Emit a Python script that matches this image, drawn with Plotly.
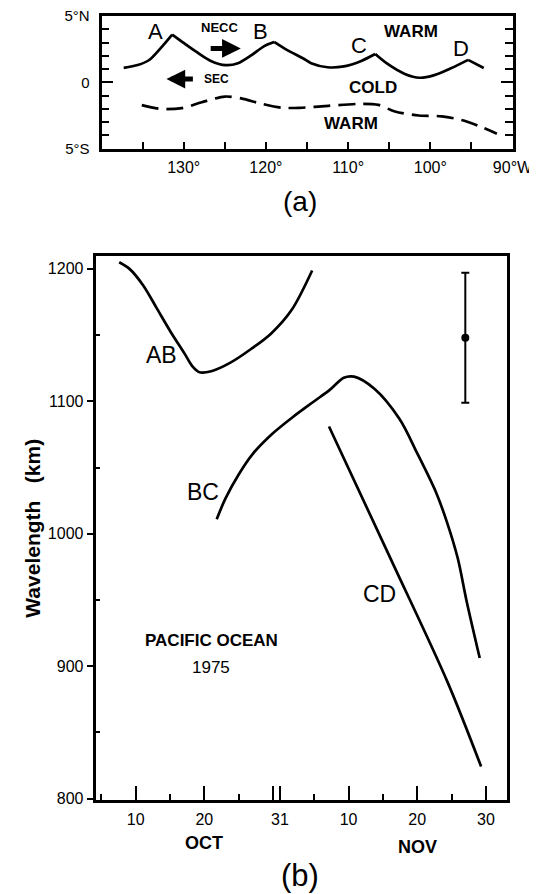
import plotly.graph_objects as go

# ---------------- Panel (a): front positions ----------------
solid_lon = [137.3, 135.6, 134.2, 132.8, 131.4, 130.0, 128.3, 126.7, 124.9, 123.4, 121.8, 120.2,
             119.0, 117.4, 115.5, 114.5, 112.5, 110.5, 108.4, 106.7, 105.2, 103.1, 101.3, 99.5,
             97.5, 95.4, 93.5]
solid_lat = [1.08, 1.30, 1.68, 2.58, 3.60, 2.97, 2.23, 1.61, 1.29, 1.43, 2.02, 2.73,
             3.04, 2.42, 1.81, 1.44, 1.13, 1.20, 1.61, 2.13, 1.38, 0.63, 0.34, 0.54,
             1.05, 1.69, 1.08]
peak_idx = [4, 12, 19, 25]          # A, B, C, D crests
peak_names = ["A", "B", "C", "D"]

dash_lon = [135.1, 132.7, 130.2, 127.8, 125.0, 123.0, 120.5, 118.1, 115.9, 112.4, 108.4,
            106.3, 104.3, 101.4, 98.6, 96.2, 93.7, 91.9]
dash_lat = [-1.73, -2.02, -1.95, -1.51, -1.08, -1.22, -1.63, -1.92, -1.93, -1.78, -1.63,
            -1.71, -2.21, -2.51, -2.57, -2.85, -3.40, -3.88]

lon_ticks = [135, 130, 125, 120, 115, 110, 105, 100, 95, 90]
lon_labels = ["", "130°", "", "120°", "", "110°", "", "100°", "", "90°W"]
lat_ticks = [-5, 0, 5]
lat_labels = ["5°S", "0", "5°N"]

# ---------------- Panel (b): wavelength vs date (day 1 = 1 Oct) ----------------
ab_day = [7.6, 9.1, 11.1, 13.1, 15.1, 17.1, 18.3, 19.3, 21.0, 23.8, 26.8, 29.7, 32.7, 35.7]
ab_km = [1205, 1200, 1187.5, 1170, 1152.4, 1136.2, 1126.2, 1121.9, 1122.7, 1129.2, 1139.5,
         1151.1, 1168.9, 1198.8]

bc_day = [21.8, 23.1, 25.0, 27.0, 29.9, 32.9, 35.9, 38.3, 40.3, 41.8, 44.8, 48.4, 50.9, 53.7,
          55.3, 56.9, 58.2, 60.1]
bc_km = [1011, 1026.9, 1044.8, 1060, 1075.5, 1088.2, 1099.7, 1108.8, 1117.8, 1118.6, 1109.3,
         1086.8, 1061.9, 1031.8, 1009.2, 981.5, 948.9, 906.2]

cd_day = [38.15, 47.15, 55.4, 60.3]
cd_km = [1081, 980.9, 888.2, 824.3]

err_day = [58.0]
err_km = [1148]
err_half = [49]

day_ticks = [10, 20, 30, 31, 41, 51, 61]
day_labels = ["10", "20", "", "31", "10", "20", "30"]
day_minor = [5, 15, 25, 36, 46, 56]
km_ticks = [800, 900, 1000, 1100, 1200]
km_minor = [850, 950, 1050, 1150]

FONT = "Liberation Sans, Arial, sans-serif"
LW = 2.7
W, H, OFF = 537, 894, 8   # the page body adds an 8px offset to the plot div


def px_x(x):
    return (x - OFF) / W


def px_y(y):
    return 1 - (y - OFF) / H


fig = go.Figure()

# solid front, drawn arc by arc so that the crests stay sharp
bounds = [0] + peak_idx + [len(solid_lon) - 1]
for i in range(len(bounds) - 1):
    a, b = bounds[i], bounds[i + 1]
    fig.add_trace(go.Scatter(x=solid_lon[a:b + 1], y=solid_lat[a:b + 1], mode="lines",
                             line=dict(color="black", width=LW, shape="spline", smoothing=0.8),
                             xaxis="x", yaxis="y", hoverinfo="skip"))
fig.add_trace(go.Scatter(x=dash_lon, y=dash_lat, mode="lines",
                         line=dict(color="black", width=LW, shape="spline", smoothing=0.8,
                                   dash="17px,8px"),
                         xaxis="x", yaxis="y", hoverinfo="skip"))

for xs, ys in [(ab_day, ab_km), (bc_day, bc_km), (cd_day, cd_km)]:
    fig.add_trace(go.Scatter(x=xs, y=ys, mode="lines",
                             line=dict(color="black", width=LW, shape="spline", smoothing=0.9),
                             xaxis="x2", yaxis="y2", hoverinfo="skip"))
fig.add_trace(go.Scatter(x=err_day, y=err_km, mode="markers",
                         marker=dict(color="black", size=8),
                         error_y=dict(type="data", array=err_half, color="black",
                                      thickness=2, width=4),
                         xaxis="x2", yaxis="y2", hoverinfo="skip"))

ann = []
C = dict(xanchor="center", yanchor="middle", showarrow=False)
# panel (a) labels
a_lbl_pos = {"A": (133.4, 3.83), "B": (120.6, 3.80), "C": (108.7, 2.74), "D": (96.3, 2.57)}
for n in peak_names:
    x, y = a_lbl_pos[n]
    ann.append(dict(x=x, y=y, xref="x", yref="y", text=n, **C,
                    font=dict(size=22, family=FONT)))
for txt, x, y, s in [("NECC", 125.7, 4.15, 13), ("SEC", 126.0, 0.22, 12),
                     ("WARM", 102.4, 3.80, 17), ("COLD", 107.0, -0.41, 17),
                     ("WARM", 109.7, -3.08, 17)]:
    ann.append(dict(x=x, y=y, xref="x", yref="y", text="<b>%s</b>" % txt, **C,
                    font=dict(size=s, family=FONT)))
# current arrows
ann.append(dict(x=123.05, y=2.55, ax=126.9, ay=2.55, xref="x", yref="y", axref="x", ayref="y",
                text="", showarrow=True, arrowhead=2, arrowwidth=5, arrowsize=0.75,
                arrowcolor="black"))
ann.append(dict(x=132.1, y=0.24, ax=128.7, ay=0.24, xref="x", yref="y", axref="x", ayref="y",
                text="", showarrow=True, arrowhead=2, arrowwidth=5, arrowsize=0.75,
                arrowcolor="black"))

# panel (b) labels
for txt, x, y in [("AB", 13.7, 1134.8), ("BC", 19.8, 1031.8), ("CD", 45.5, 954.3)]:
    ann.append(dict(x=x, y=y, xref="x2", yref="y2", text=txt, **C,
                    font=dict(size=23, family=FONT)))
ann.append(dict(x=21.1, y=919.8, xref="x2", yref="y2", text="<b>PACIFIC OCEAN</b>", **C,
                font=dict(size=17, family=FONT)))
ann.append(dict(x=20.95, y=898.8, xref="x2", yref="y2", text="1975", **C,
                font=dict(size=17, family=FONT)))
ann.append(dict(x=20, y=px_y(843.3), xref="x2", yref="paper", text="<b>OCT</b>", **C,
                font=dict(size=18, family=FONT)))
ann.append(dict(x=51, y=px_y(846.7), xref="x2", yref="paper", text="<b>NOV</b>", **C,
                font=dict(size=18, family=FONT)))
ann.append(dict(x=px_x(300), y=px_y(201), xref="paper", yref="paper", text="(a)", **C,
                font=dict(size=28, family=FONT)))
ann.append(dict(x=px_x(300), y=px_y(875), xref="paper", yref="paper", text="(b)", **C,
                font=dict(size=31, family=FONT)))
ann.append(dict(x=px_x(31.7), y=px_y(528), xref="paper", yref="paper",
                text="<b>Wavelength\u00a0\u00a0\u00a0(km)</b>", textangle=-90, **C,
                font=dict(size=21, family=FONT)))

axis_common = dict(showgrid=False, zeroline=False, color="black", tickcolor="black",
                   linecolor="black", automargin=False, ticklabeloverflow="allow")

dom_ax = [px_x(101.5), px_x(512.5)]
dom_ay = [px_y(148.5), px_y(16)]
dom_bx = [px_x(95.5), px_x(507.2)]
dom_by = [px_y(800.4), px_y(255.5)]

fig.update_layout(
    template="none",
    width=W, height=H,
    margin=dict(l=0, r=0, t=0, b=0, pad=0),
    paper_bgcolor="white", plot_bgcolor="white",
    showlegend=False,
    font=dict(family=FONT, color="black", size=16),
    annotations=ann,
    xaxis=dict(**axis_common, domain=dom_ax, range=[140, 90], anchor="y",
               tickmode="array", tickvals=lon_ticks, ticktext=lon_labels,
               ticks="inside", ticklen=7, tickwidth=2, ticklabelstandoff=2,
               showline=True, linewidth=LW, mirror=True, tickfont=dict(size=16)),
    yaxis=dict(**axis_common, domain=dom_ay, range=[-5, 5], anchor="x",
               tickmode="array", tickvals=lat_ticks, ticktext=lat_labels,
               ticks="inside", ticklen=12, tickwidth=2, ticklabelstandoff=6,
               minor=dict(dtick=1, tick0=0, ticks="inside", ticklen=8, tickwidth=2,
                          tickcolor="black", showgrid=False),
               showline=True, linewidth=LW, mirror="ticks", tickfont=dict(size=15)),
    xaxis2=dict(**axis_common, domain=dom_bx, range=[4.15, 64.1], anchor="y2",
                tickmode="array", tickvals=day_ticks, ticktext=day_labels,
                ticks="inside", ticklen=15, tickwidth=2, ticklabelstandoff=3,
                minor=dict(tickmode="array", tickvals=day_minor, ticks="inside", ticklen=7,
                           tickwidth=2, tickcolor="black", showgrid=False),
                showline=True, linewidth=LW, mirror=True, tickfont=dict(size=16)),
    yaxis2=dict(**axis_common, domain=dom_by, range=[798.7, 1210.1], anchor="x2",
                tickmode="array", tickvals=km_ticks,
                ticks="outside", ticklen=6, tickwidth=2,
                minor=dict(tickmode="array", tickvals=km_minor, ticks="inside", ticklen=5,
                           tickwidth=2, tickcolor="black", showgrid=False),
                showline=True, linewidth=LW, mirror=True, tickfont=dict(size=16)),
    yaxis3=dict(**axis_common, overlaying="y2", side="right", anchor="x2",
                range=[798.7, 1210.1],
                tickmode="array", tickvals=km_ticks, ticks="inside", ticklen=8, tickwidth=2,
                minor=dict(tickmode="array", tickvals=km_minor, ticks="inside", ticklen=5,
                           tickwidth=2, tickcolor="black", showgrid=False),
                showticklabels=False, showline=False),
    xaxis3=dict(**axis_common, overlaying="x2", side="bottom", anchor="y2",
                range=[4.15, 64.1],
                tickmode="array", tickvals=[31], ticks="inside", ticklen=34, tickwidth=2,
                showticklabels=False, showline=False),
)

fig.write_html("out.html")
